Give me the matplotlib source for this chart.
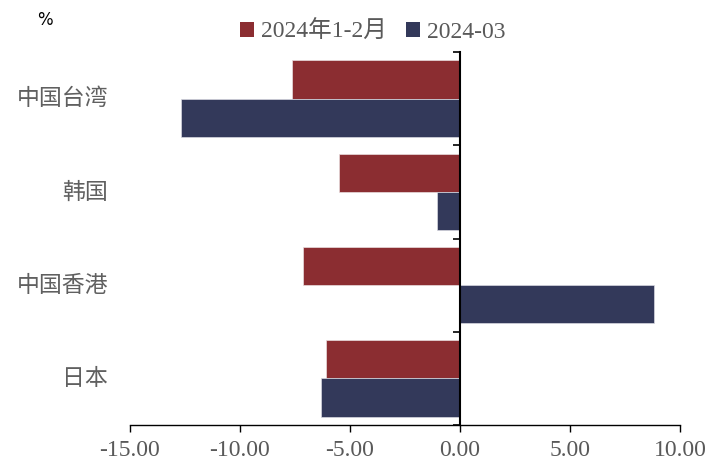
import matplotlib
matplotlib.use("Agg")
import matplotlib.pyplot as plt
from matplotlib.ticker import FormatStrFormatter
from matplotlib.transforms import blended_transform_factory
from matplotlib.patches import Patch

plt.rcParams['axes.unicode_minus'] = False

categories = ["中国台湾", "韩国", "中国香港", "日本"]
series_names = ["2024年1-2月", "2024-03"]
jan_feb = [-7.65, -5.49, -7.12, -6.10]
march = [-12.67, -1.06, 8.83, -6.33]
x_ticks = [-15, -10, -5, 0, 5, 10]

red = "#8B2D31"
navy = "#33395A"
gray = "#595959"
serif = ["Liberation Serif", "Noto Sans CJK SC"]
cjk = ["Noto Sans CJK SC", "DejaVu Sans"]

fig = plt.figure(figsize=(7.06, 4.63), dpi=100)
ax = fig.add_axes([130 / 706, 38 / 463, 550 / 706, 373 / 463])

pos = list(range(len(categories)))
h = 0.41
ax.barh([p - h / 2 for p in pos], jan_feb, height=h, color=red,
        edgecolor="#e8dede", linewidth=0.5)
ax.barh([p + h / 2 for p in pos], march, height=h, color=navy,
        edgecolor="#d8d8e0", linewidth=0.5)

ax.set_xlim(-15, 10)
ax.set_ylim(len(categories) - 0.5, -0.5)
ax.set_xticks(x_ticks)
ax.xaxis.set_major_formatter(FormatStrFormatter("%.2f"))

# tick marks on the zero axis between categories
ax.set_yticks([p - 0.5 for p in pos] + [len(categories) - 0.5])
ax.set_yticklabels([])

for s in ["top", "right"]:
    ax.spines[s].set_visible(False)
ax.spines["left"].set_position(("data", 0))
ax.spines["left"].set_linewidth(1.5)
ax.spines["bottom"].set_linewidth(1.0)
ax.tick_params(axis="y", direction="out", length=5, width=1.2)
ax.tick_params(axis="x", direction="out", length=5, width=1.0, pad=6,
               labelsize=17, labelcolor=gray)
for lbl in ax.get_xticklabels():
    lbl.set_family(serif)

# category names, right-aligned at the left side of the plot
trans = blended_transform_factory(fig.transFigure, ax.transData)
for p, name in zip(pos, categories):
    ax.text(108 / 706, p, name, transform=trans, ha="right", va="center",
            fontsize=16.5, color="#606060", family=cjk)

fig.text(45 / 706, 1 - 20 / 463, "%", ha="center", va="center",
         fontsize=12, color="black", family=["DejaVu Sans"])

handles = [Patch(facecolor=red), Patch(facecolor=navy)]
leg = fig.legend(handles, series_names, loc="center", ncol=2,
                 bbox_to_anchor=(373 / 706, 1 - 32 / 463), frameon=False,
                 handlelength=0.6, handleheight=0.6, handletextpad=0.3,
                 columnspacing=0.8, prop={"family": serif, "size": 17})
for t in leg.get_texts():
    t.set_color(gray)

fig.savefig("out.png", dpi=100)
